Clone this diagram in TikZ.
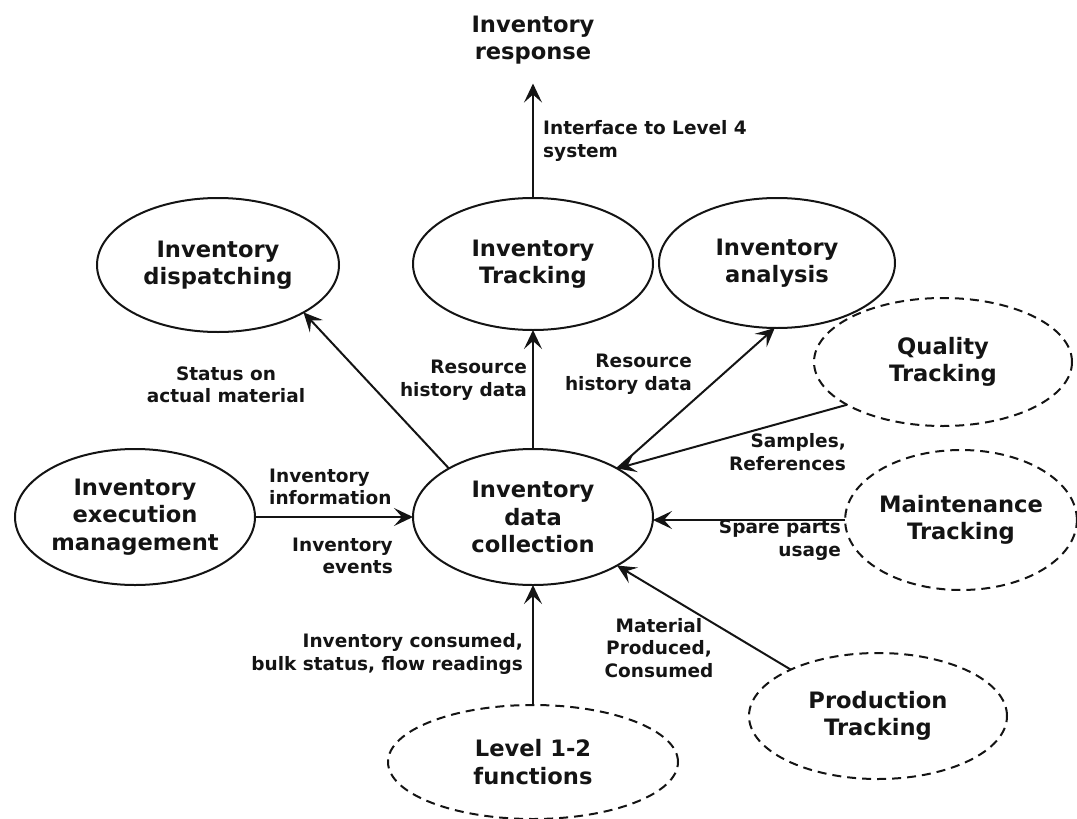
\documentclass[tikz,border=0pt]{standalone}
\usepackage{fontspec}
\setmainfont{DejaVu Sans}
\usetikzlibrary{shapes.geometric,arrows.meta}
\definecolor{ink}{HTML}{141414}

\begin{document}
\begin{tikzpicture}[x=1pt,y=-1pt,
  every node/.style={font=\bfseries\fontsize{22.6}{27.5}\selectfont, text=ink},
  func/.style={ellipse, draw=ink, line width=2pt, inner sep=0pt, outer sep=0pt, align=center},
  ext/.style={func, dash pattern=on 9pt off 6pt},
  lbl/.style={font=\bfseries\fontsize{18.5}{22.5}\selectfont, inner sep=0pt},
  flow/.style={draw=ink, line width=2pt, -{Stealth[length=19pt,width=18pt,inset=8pt]}}
]
\useasboundingbox (0,0) rectangle (1077,819);

% functions
\node[func, minimum width=242pt, minimum height=134pt] (disp)  at (218,265) {Inventory\\dispatching};
\node[func, minimum width=240pt, minimum height=132pt] (track) at (533,264) {Inventory\\Tracking};
\node[func, minimum width=236pt, minimum height=130pt] (anal)  at (777,263) {Inventory\\analysis};
\node[func, minimum width=240pt, minimum height=136pt] (coll)  at (533,517) {Inventory\\data\\collection};
\node[func, minimum width=240pt, minimum height=136pt] (exec)  at (135,517) {Inventory\\execution\\management};

% neighbouring activities
\node[ext, minimum width=258pt, minimum height=128pt] (qual)  at (943,362) {Quality\\Tracking};
\node[ext, minimum width=230pt, minimum height=140pt] (maint) at (961,520) {Maintenance\\Tracking};
\node[ext, minimum width=258pt, minimum height=126pt] (prod)  at (878,716) {Production\\Tracking};
\node[ext, minimum width=290pt, minimum height=114pt] (lvl)   at (533,762) {Level 1-2\\functions};

% response to level 4
\node[align=center, inner sep=0pt] (resp) at (533,40) {Inventory\\response};

% flows
\draw[flow, shorten >=19pt] (track.north) -- (resp.south);
\draw[flow] (coll.north) -- (track.south);
\draw[flow] (coll.150) -- (disp.331);
\draw[flow] (coll.30) -- (anal.268);
\draw[flow] (qual.204.8) -- (coll.30);
\draw[flow] (maint.west) -- (maint.west -| coll.east);
\draw[flow] (prod.152.9) -- (coll.330);
\draw[flow] (lvl.north) -- (coll.south);
\draw[flow] (exec.east) -- (coll.west);

% flow labels
\node[lbl, anchor=west, align=left] (l1) at (543,141) {Interface to Level 4\\system};
\node[lbl, align=center] (l2) at (226,385) {Status on\\actual material};
\node[lbl, anchor=east, align=right] (l3) at (527,380) {Resource\\history data};
\node[lbl, anchor=east, align=right] (l4) at (692,374) {Resource\\history data};
\node[lbl, anchor=east, align=right] (l5) at (846,452) {Samples,\\References};
\node[lbl, anchor=east, align=right] (l6) at (841,540) {Spare parts\\usage};
\node[lbl, anchor=west, align=left] (l7) at (269,487) {Inventory\\information};
\node[lbl, anchor=east, align=right] (l8) at (393,556) {Inventory\\events};
\node[lbl, anchor=east, align=right] (l9) at (523,654) {Inventory consumed,\\bulk status, flow readings};
\node[lbl, align=center] (l10) at (659,648) {Material\\Produced,\\Consumed};
\end{tikzpicture}
\end{document}
